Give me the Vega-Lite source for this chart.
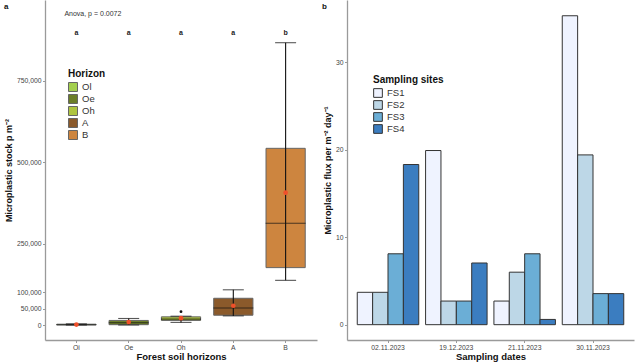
{
  "$schema": "https://vega.github.io/schema/vega-lite/v6.json",
  "background": "white",
  "padding": {"left": 4, "top": 0, "right": 3, "bottom": 0},
  "spacing": 5,
  "config": {
    "font": "Liberation Sans",
    "view": {"stroke": null},
    "axis": {
      "grid": false,
      "domainColor": "#9a9a9a",
      "domainWidth": 1.3,
      "tickColor": "#9a9a9a",
      "tickSize": 2.5,
      "labelColor": "#444444",
      "labelFontSize": 6.8,
      "labelPadding": 1.5,
      "titleFontSize": 9.5,
      "titleFontWeight": "bold",
      "titleColor": "#111111",
      "labelFont": "Liberation Sans",
      "titleFont": "Liberation Sans"
    },
    "legend": {
      "titleFont": "Liberation Sans",
      "labelFont": "Liberation Sans",
      "titleFontSize": 10,
      "titleFontWeight": "bold",
      "titleColor": "#111111",
      "labelFontSize": 9.5,
      "labelColor": "#333333",
      "symbolType": "square",
      "orient": "none"
    }
  },
  "resolve": {"scale": {"color": "independent"}, "legend": {"color": "independent"}},
  "hconcat": [
    {
      "width": 272,
      "height": 340,
      "title": {"text": "a", "anchor": "start", "frame": "group", "fontSize": 8, "fontWeight": "bold", "baseline": "top", "offset": -11, "dx": -41, "color": "#111111"},
      "layer": [
        {
          "data": {"name": "boxes", "values": [
            {"horizon": "Oi", "lower": 0, "q1": 200, "median": 1000, "q3": 2500, "upper": 3500, "mean": 1200},
            {"horizon": "Oe", "lower": 0, "q1": 1000, "median": 7000, "q3": 14000, "upper": 20000, "mean": 9000},
            {"horizon": "Oh", "lower": 8000, "q1": 14000, "median": 18000, "q3": 25000, "upper": 27000, "mean": 21000},
            {"horizon": "A", "lower": 28000, "q1": 30000, "median": 52000, "q3": 82000, "upper": 108000, "mean": 59000},
            {"horizon": "B", "lower": 137000, "q1": 176000, "median": 312000, "q3": 542000, "upper": 866000, "mean": 406000}
          ]},
          "mark": {"type": "bar", "width": {"band": 0.75}, "stroke": "#666666", "strokeWidth": 1},
          "encoding": {
            "x": {"field": "horizon", "type": "nominal", "sort": ["Oi", "Oe", "Oh", "A", "B"],
                  "scale": {"domain": ["Oi", "Oe", "Oh", "A", "B"], "paddingInner": 0, "paddingOuter": 0.1},
                  "axis": {"title": "Forest soil horizons", "labelAngle": 0, "titlePadding": 1}},
            "y": {"field": "q3", "type": "quantitative",
                  "scale": {"domain": [-46000, 997000], "nice": false, "zero": false},
                  "axis": {"title": "Microplastic stock p m⁻²", "values": [0, 50000, 100000, 250000, 500000, 750000], "labelExpr": "format(datum.value, ',')", "titlePadding": 3, "titleFontSize": 9}},
            "y2": {"field": "q1"},
            "color": {"field": "horizon", "type": "nominal",
                      "scale": {"domain": ["Oi", "Oe", "Oh", "A", "B"], "range": ["#a3cf4e", "#6b7d28", "#aec43f", "#8b5a2b", "#cd853f"]},
                      "legend": {"title": "Horizon", "legendX": 23, "legendY": 69, "symbolSize": 81, "symbolStrokeColor": "#666666", "symbolStrokeWidth": 1, "rowPadding": -4, "labelExpr": "datum.label == 'Oi' ? 'Ol' : datum.label", "titlePadding": 3}}
          }
        },
        {
          "data": {"name": "boxes"},
          "mark": {"type": "rule", "color": "#111111", "strokeWidth": 1.1},
          "encoding": {
            "x": {"field": "horizon", "type": "nominal", "sort": ["Oi", "Oe", "Oh", "A", "B"]},
            "y": {"field": "lower", "type": "quantitative"},
            "y2": {"field": "upper"}
          }
        },
        {
          "data": {"name": "boxes"},
          "mark": {"type": "tick", "color": "#111111", "size": 40, "thickness": 1.1},
          "encoding": {
            "x": {"field": "horizon", "type": "nominal", "sort": ["Oi", "Oe", "Oh", "A", "B"]},
            "y": {"field": "median", "type": "quantitative"}
          }
        },
        {
          "data": {"name": "boxes"},
          "mark": {"type": "tick", "color": "#111111", "size": 21, "thickness": 1.1},
          "encoding": {
            "x": {"field": "horizon", "type": "nominal", "sort": ["Oi", "Oe", "Oh", "A", "B"]},
            "y": {"field": "lower", "type": "quantitative"}
          }
        },
        {
          "data": {"name": "boxes"},
          "mark": {"type": "tick", "color": "#111111", "size": 21, "thickness": 1.1},
          "encoding": {
            "x": {"field": "horizon", "type": "nominal", "sort": ["Oi", "Oe", "Oh", "A", "B"]},
            "y": {"field": "upper", "type": "quantitative"}
          }
        },
        {
          "data": {"name": "boxes"},
          "mark": {"type": "circle", "color": "#f0502a", "size": 22, "opacity": 1},
          "encoding": {
            "x": {"field": "horizon", "type": "nominal", "sort": ["Oi", "Oe", "Oh", "A", "B"]},
            "y": {"field": "mean", "type": "quantitative"}
          }
        },
        {
          "data": {"values": [{"horizon": "Oh", "value": 41000}]},
          "mark": {"type": "circle", "color": "#111111", "size": 8, "opacity": 1},
          "encoding": {
            "x": {"field": "horizon", "type": "nominal", "sort": ["Oi", "Oe", "Oh", "A", "B"]},
            "y": {"field": "value", "type": "quantitative"}
          }
        },
        {
          "data": {"values": [
            {"horizon": "Oi", "value": 896000, "label": "a"},
            {"horizon": "Oe", "value": 896000, "label": "a"},
            {"horizon": "Oh", "value": 896000, "label": "a"},
            {"horizon": "A", "value": 896000, "label": "a"},
            {"horizon": "B", "value": 896000, "label": "b"}
          ]},
          "mark": {"type": "text", "fontSize": 7, "fontWeight": "bold", "color": "#222222", "baseline": "middle"},
          "encoding": {
            "x": {"field": "horizon", "type": "nominal", "sort": ["Oi", "Oe", "Oh", "A", "B"]},
            "y": {"field": "value", "type": "quantitative"},
            "text": {"field": "label"}
          }
        },
        {
          "data": {"values": [{"horizon": "Oi", "value": 954000, "label": "Anova, p = 0.0072"}]},
          "mark": {"type": "text", "fontSize": 7, "color": "#333333", "align": "left", "baseline": "middle", "dx": -12},
          "encoding": {
            "x": {"field": "horizon", "type": "nominal", "sort": ["Oi", "Oe", "Oh", "A", "B"]},
            "y": {"field": "value", "type": "quantitative"},
            "text": {"field": "label"}
          }
        }
      ]
    },
    {
      "width": 287,
      "height": 340,
      "title": {"text": "b", "anchor": "start", "frame": "group", "fontSize": 8, "fontWeight": "bold", "baseline": "top", "offset": -11, "dx": -25, "color": "#111111"},
      "data": {"values": [
        {"date": "02.11.2023", "site": "FS1", "flux": 3.7},
        {"date": "02.11.2023", "site": "FS2", "flux": 3.7},
        {"date": "02.11.2023", "site": "FS3", "flux": 8.1},
        {"date": "02.11.2023", "site": "FS4", "flux": 18.3},
        {"date": "19.12.2023", "site": "FS1", "flux": 19.9},
        {"date": "19.12.2023", "site": "FS2", "flux": 2.7},
        {"date": "19.12.2023", "site": "FS3", "flux": 2.7},
        {"date": "19.12.2023", "site": "FS4", "flux": 7.05},
        {"date": "21.11.2023", "site": "FS1", "flux": 2.7},
        {"date": "21.11.2023", "site": "FS2", "flux": 6.0},
        {"date": "21.11.2023", "site": "FS3", "flux": 8.1},
        {"date": "21.11.2023", "site": "FS4", "flux": 0.6},
        {"date": "30.11.2023", "site": "FS1", "flux": 35.3},
        {"date": "30.11.2023", "site": "FS2", "flux": 19.4},
        {"date": "30.11.2023", "site": "FS3", "flux": 3.55},
        {"date": "30.11.2023", "site": "FS4", "flux": 3.55}
      ]},
      "mark": {"type": "bar", "stroke": "#333333", "strokeWidth": 1},
      "encoding": {
        "x": {"field": "date", "type": "nominal",
              "scale": {"paddingInner": 0.1, "paddingOuter": 0.15},
              "axis": {"title": "Sampling dates", "labelAngle": 0, "titlePadding": 1}},
        "xOffset": {"field": "site", "type": "nominal", "scale": {"paddingInner": 0, "paddingOuter": 0}},
        "y": {"field": "flux", "type": "quantitative",
              "scale": {"domain": [-1.75, 37.1], "nice": false, "zero": false},
              "axis": {"title": "Microplastic flux per m⁻² day⁻¹", "values": [0, 10, 20, 30], "titlePadding": 3, "titleFontSize": 9}},
        "y2": {"datum": 0},
        "color": {"field": "site", "type": "nominal",
                  "scale": {"domain": ["FS1", "FS2", "FS3", "FS4"], "range": ["#eff3ff", "#bdd7e7", "#6baed6", "#3b7dc0"]},
                  "legend": {"title": "Sampling sites", "legendX": 26, "legendY": 75, "symbolSize": 76, "symbolStrokeColor": "#333333", "symbolStrokeWidth": 1, "rowPadding": -6, "titlePadding": 3}}
      }
    }
  ]
}
